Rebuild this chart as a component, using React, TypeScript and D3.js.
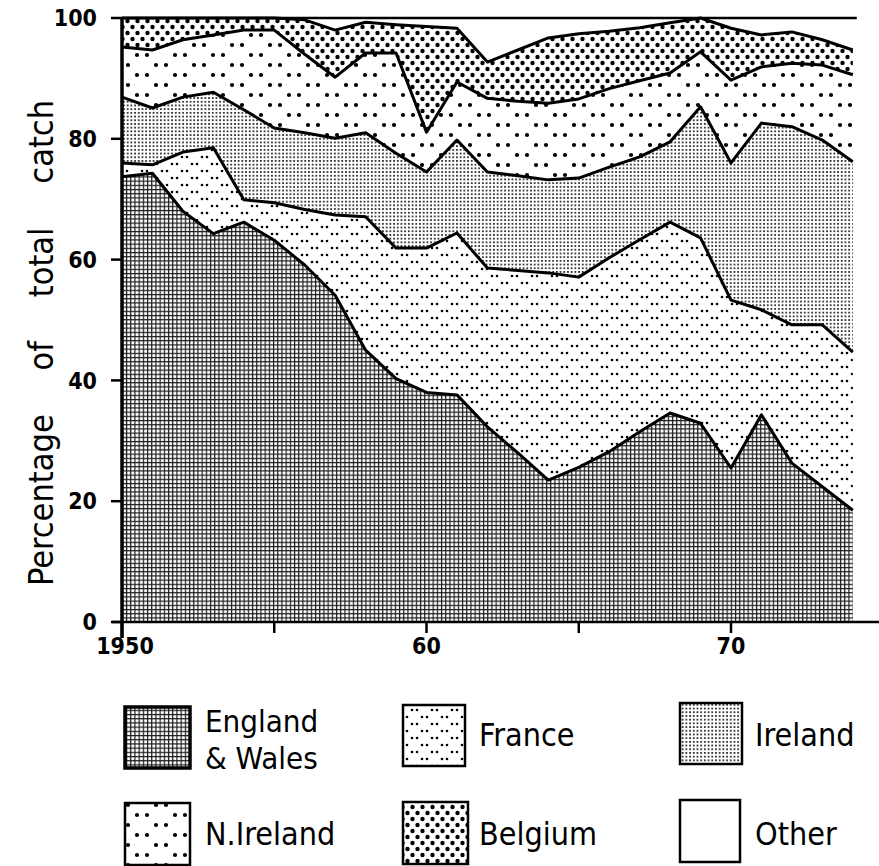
import React from "react";
import * as d3 from "d3";

const years = [1950,1951,1952,1953,1954,1955,1956,1957,1958,1959,1960,1961,1962,1963,1964,1965,1966,1967,1968,1969,1970,1971,1972,1973,1974];
const englandWales = [73.7,74.3,68.0,64.3,66.2,63.2,59.1,54.1,45.0,40.3,38.0,37.6,32.3,28.0,23.5,25.6,28.2,31.5,34.6,32.9,25.5,34.3,26.3,22.4,18.5];
const france = [2.3,1.4,9.8,14.2,3.7,6.2,9.2,13.3,22.1,21.6,23.9,26.8,26.3,30.2,34.3,31.5,32.1,31.8,31.6,30.7,27.8,17.4,22.9,26.8,26.2];
const ireland = [10.9,9.4,9.1,9.2,14.9,12.4,12.7,12.7,13.9,15.7,12.6,15.4,15.9,15.7,15.4,16.4,15.0,13.7,13.3,21.7,22.7,30.9,32.8,30.6,31.5];
const nIreland = [8.3,9.6,9.5,9.5,13.2,16.2,13.0,10.1,13.2,16.6,6.6,9.6,12.2,12.3,12.7,13.1,13.0,12.6,11.4,9.1,13.7,9.3,10.5,12.4,14.4];
const belgium = [4.8,5.3,3.6,2.8,2.0,2.0,5.7,7.8,5.1,4.7,17.5,8.9,6.0,8.5,10.8,10.8,9.5,8.8,8.3,5.6,8.6,5.3,5.2,4.2,4.1];

const seriesKeys = ["englandWales","france","ireland","nIreland","belgium"];
const legendRow1 = [["England","& Wales"],["France"],["Ireland"]];
const legendRow2 = [["N.Ireland"],["Belgium"],["Other"]];
const yTicks = [0,20,40,60,80,100];
const xTicks = [1950,1955,1960,1965,1970];
const xTickLabels: Record<number,string> = {1950:"1950",1960:"60",1970:"70"};
const yLabel = "Percentage of total catch";

const patternIds = ["pEW","pFR","pIR","pNI","pBE","pOT"];

export default function App() {
  const x = d3.scaleLinear().domain([1950,1974]).range([122,852.8]);
  const y = d3.scaleLinear().domain([0,100]).range([622,18]);

  const table = years.map((yr,i)=>({
    year: yr,
    englandWales: englandWales[i],
    france: france[i],
    ireland: ireland[i],
    nIreland: nIreland[i],
    belgium: belgium[i],
  }));
  const stacked = d3.stack<any>().keys(seriesKeys)(table);
  const area = d3.area<any>().x((d:any)=>x(d.data.year)).y0((d:any)=>y(d[0])).y1((d:any)=>y(d[1])).curve(d3.curveLinear);
  const line = d3.line<any>().x((d:any)=>x(d.data.year)).y((d:any)=>y(d[1]));

  const font = "'DejaVu Sans Condensed', 'DejaVu Sans', sans-serif";
  const tickFont = "'DejaVu Sans Condensed', 'Liberation Sans', sans-serif";

  const legendX = [125, 403, 680];
  const legendTextX = [205, 479, 755];
  const legendBoxY1 = [707, 705, 703];
  const legendBoxY2 = [803, 802, 800];

  return (
    <svg width={879} height={866} style={{position:"absolute",left:0,top:0,background:"#fff"}} fontFamily={font}>
      <defs>
        <pattern id="pEW" patternUnits="userSpaceOnUse" width={4.2} height={4.2}>
          <rect width={4.2} height={4.2} fill="#1a1a1a"/>
          <rect x={1.15} y={1.15} width={3.0} height={3.0} fill="#fff"/>
        </pattern>
        <pattern id="pFR" patternUnits="userSpaceOnUse" width={20} height={14}>
          <rect width={20} height={14} fill="#fff"/>
          <circle cx={2} cy={3} r={1.3} fill="#000"/>
          <circle cx={7} cy={3} r={1.3} fill="#000"/>
          <circle cx={12} cy={10} r={1.3} fill="#000"/>
          <circle cx={17} cy={10} r={1.3} fill="#000"/>
        </pattern>
        <pattern id="pIR" patternUnits="userSpaceOnUse" width={3.7} height={3.7}>
          <rect width={3.7} height={3.7} fill="#fff"/>
          <circle cx={1.85} cy={1.85} r={0.95} fill="#000"/>
        </pattern>
        <pattern id="pNI" patternUnits="userSpaceOnUse" width={38} height={20}>
          <rect width={38} height={20} fill="#fff"/>
          <circle cx={4} cy={5} r={2.1} fill="#000"/>
          <circle cx={14} cy={5} r={2.1} fill="#000"/>
          <circle cx={23} cy={15} r={2.1} fill="#000"/>
          <circle cx={33} cy={15} r={2.1} fill="#000"/>
        </pattern>
        <pattern id="pBE" patternUnits="userSpaceOnUse" width={10} height={12}>
          <rect width={10} height={12} fill="#fff"/>
          <circle cx={2.5} cy={3} r={2.2} fill="#000"/>
          <circle cx={7.5} cy={9} r={2.2} fill="#000"/>
        </pattern>
        <pattern id="pOT" patternUnits="userSpaceOnUse" width={10} height={10}>
          <rect width={10} height={10} fill="#fff"/>
        </pattern>
      </defs>

      {stacked.map((s,i)=>(
        <path key={"a"+i} d={area(s as any) || ""} fill={`url(#${patternIds[i]})`} stroke="none"/>
      ))}
      {stacked.map((s,i)=>(
        <path key={"l"+i} d={line(s as any) || ""} fill="none" stroke="#000" strokeWidth={3} strokeLinejoin="round"/>
      ))}

      <line x1={x(1950)} x2={x(1974)+4} y1={y(100)} y2={y(100)} stroke="#000" strokeWidth={2.5}/>
      <line x1={x(1950)} x2={x(1950)} y1={y(100)-1} y2={638} stroke="#000" strokeWidth={3.5}/>
      <line x1={112} x2={879} y1={y(0)} y2={y(0)} stroke="#000" strokeWidth={2.5}/>

      {yTicks.map(t=>(
        <g key={"yt"+t}>
          <line x1={111} x2={x(1950)} y1={y(t)} y2={y(t)} stroke="#000" strokeWidth={2.5}/>
          <text x={97} y={y(t)} dy="0.36em" textAnchor="end" fontSize={23} fontWeight="bold" fontFamily={tickFont}>{t}</text>
        </g>
      ))}
      {xTicks.map(t=>(
        <g key={"xt"+t}>
          <line x1={x(t)} x2={x(t)} y1={y(0)} y2={y(0)+(t===1950?16:11)} stroke="#000" strokeWidth={2.5}/>
          {xTickLabels[t] && (
            <text x={x(t)+(t===1950?3:0)} y={654} textAnchor="middle" fontSize={23} fontWeight="bold" fontFamily={tickFont}>{xTickLabels[t]}</text>
          )}
        </g>
      ))}

      <text transform="translate(53,343) rotate(-90)" textAnchor="middle" fontSize={34} wordSpacing={34}>{yLabel}</text>

      {legendRow1.map((lab,i)=>(
        <g key={"lg1"+i}>
          <rect x={legendX[i]} y={legendBoxY1[i]} width={i===0?65:62} height={61} fill={`url(#${patternIds[i]})`} stroke="#000" strokeWidth={i===0?3.5:2.5}/>
          {lab.length===2 ? (
            <>
              <text x={legendTextX[i]} y={732} fontSize={31}>{lab[0]}</text>
              <text x={legendTextX[i]} y={769} fontSize={31}>{lab[1]}</text>
            </>
          ) : (
            <text x={legendTextX[i]} y={746} fontSize={32}>{lab[0]}</text>
          )}
        </g>
      ))}
      {legendRow2.map((lab,i)=>(
        <g key={"lg2"+i}>
          <rect x={legendX[i]} y={legendBoxY2[i]} width={i===2?60:65} height={62} fill={`url(#${patternIds[i+3]})`} stroke="#000" strokeWidth={2.5}/>
          <text x={legendTextX[i]} y={845} fontSize={32}>{lab[0]}</text>
        </g>
      ))}
    </svg>
  );
}
